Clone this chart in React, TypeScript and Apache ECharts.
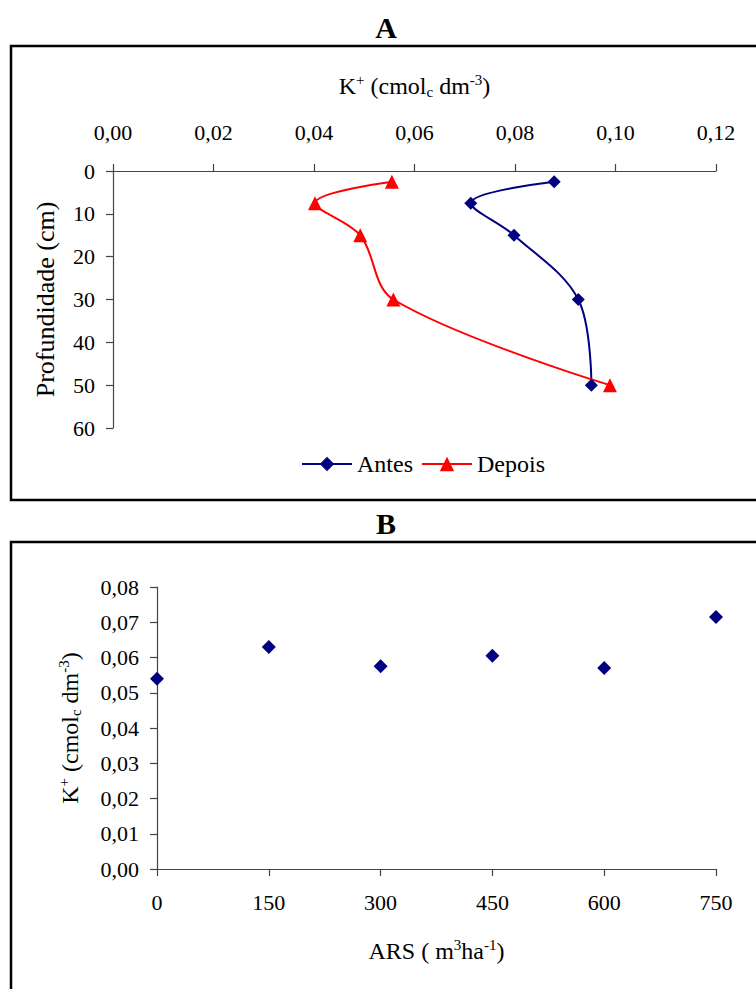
import React, { useEffect, useRef } from "react";
import * as echarts from "echarts";

// Panel A: K+ by depth, before (Antes) and after (Depois)
const depths = [2.5, 7.5, 15, 30, 50];
const antes = [0.0878, 0.0712, 0.0798, 0.0926, 0.0952];
const depois = [0.0555, 0.0402, 0.0492, 0.0558, 0.0989];

// Panel B: K+ by ARS dose
const arsDoses = [0, 150, 300, 450, 600, 750];
const kValuesB = [0.054, 0.063, 0.0575, 0.0605, 0.057, 0.0715];

const FONT = "Liberation Serif";
const fmt2 = (v: number) => v.toFixed(2).replace(".", ",");

const richName = (size: number, small: number) => ({
  fontFamily: FONT,
  fontSize: size,
  color: "#000",
  rich: {
    m: { fontFamily: FONT, fontSize: size, color: "#000" },
    sup: { fontFamily: FONT, fontSize: small, color: "#000", verticalAlign: "top", padding: [0, 0, 12, 0] },
    sub: { fontFamily: FONT, fontSize: small, color: "#000", verticalAlign: "bottom" },
  },
});

export default function App() {
  const ref = useRef<HTMLDivElement>(null);
  useEffect(() => {
    document.body.style.margin = "0";
    if (!ref.current) return;
    const chart = echarts.init(ref.current, undefined, { renderer: "svg" });
    const axisLine = { show: true, lineStyle: { color: "#444", width: 1.2 } };
    const axisTick = { show: true, inside: false, length: 7, lineStyle: { color: "#444", width: 1.2 } };
    const tickLabel = { fontFamily: FONT, fontSize: 22, color: "#000" };
    chart.setOption({
      animation: false,
      backgroundColor: "#fff",
      textStyle: { fontFamily: FONT },
      grid: [
        { left: 113, top: 171, width: 603, height: 257 },
        { left: 157, top: 587, width: 559, height: 282 },
      ],
      xAxis: [
        {
          gridIndex: 0,
          type: "value",
          position: "top",
          min: 0,
          max: 0.12,
          interval: 0.02,
          axisLine,
          axisTick,
          splitLine: { show: false },
          axisLabel: { ...tickLabel, margin: 28, formatter: fmt2 },
          name: "K{sup|+} (cmol{sub|c} dm{sup|-3})",
          nameLocation: "middle",
          nameGap: 72,
          nameTextStyle: richName(24, 15),
        },
        {
          gridIndex: 1,
          type: "value",
          min: 0,
          max: 750,
          interval: 150,
          axisLine,
          axisTick,
          splitLine: { show: false },
          axisLabel: { ...tickLabel, margin: 22 },
          name: "ARS ( m{sup|3}ha{sup|-1})",
          nameLocation: "middle",
          nameGap: 68,
          nameTextStyle: richName(24, 15),
        },
      ],
      yAxis: [
        {
          gridIndex: 0,
          type: "value",
          inverse: true,
          min: 0,
          max: 60,
          interval: 10,
          axisLine,
          axisTick,
          splitLine: { show: false },
          axisLabel: { ...tickLabel, margin: 18 },
          name: "Profundidade (cm)",
          nameLocation: "middle",
          nameGap: 55,
          nameTextStyle: { fontFamily: FONT, fontSize: 26, color: "#000" },
        },
        {
          gridIndex: 1,
          type: "value",
          min: 0,
          max: 0.08,
          interval: 0.01,
          axisLine,
          axisTick,
          splitLine: { show: false },
          axisLabel: { ...tickLabel, margin: 18, formatter: fmt2 },
          name: "K{sup|+} (cmol{sub|c} dm{sup|-3})",
          nameLocation: "middle",
          nameGap: 74,
          nameTextStyle: richName(24, 15),
        },
      ],
      legend: {
        data: ["Antes", "Depois"],
        left: 296,
        top: 447,
        itemWidth: 50,
        itemHeight: 18,
        itemGap: 8,
        textStyle: { fontFamily: FONT, fontSize: 24, color: "#000" },
      },
      series: [
        {
          name: "Antes",
          type: "line",
          xAxisIndex: 0,
          yAxisIndex: 0,
          data: antes.map((v, i) => [v, depths[i]]),
          smooth: 0.35,
          symbol: "diamond",
          symbolSize: 13,
          itemStyle: { color: "#000080", opacity: 1 },
          lineStyle: { color: "#000080", width: 2 },
        },
        {
          name: "Depois",
          type: "line",
          xAxisIndex: 0,
          yAxisIndex: 0,
          data: depois.map((v, i) => [v, depths[i]]),
          smooth: 0.35,
          symbol: "triangle",
          symbolSize: 14,
          itemStyle: { color: "#ff0000", opacity: 1 },
          lineStyle: { color: "#ff0000", width: 2 },
        },
        {
          name: "K",
          type: "scatter",
          xAxisIndex: 1,
          yAxisIndex: 1,
          data: arsDoses.map((d, i) => [d, kValuesB[i]]),
          symbol: "diamond",
          symbolSize: 14,
          itemStyle: { color: "#000080", opacity: 1 },
        },
      ],
      graphic: [
        { type: "rect", shape: { x: 11, y: 46, width: 760, height: 454 }, style: { fill: "none", stroke: "#000", lineWidth: 2.5 } },
        { type: "rect", shape: { x: 11, y: 542, width: 760, height: 470 }, style: { fill: "none", stroke: "#000", lineWidth: 2.5 } },
        { type: "text", x: 386, y: 27, style: { text: "A", fontFamily: FONT, fontSize: 30, fontWeight: "bold", fill: "#000", align: "center", verticalAlign: "middle" } },
        { type: "text", x: 386, y: 523, style: { text: "B", fontFamily: FONT, fontSize: 30, fontWeight: "bold", fill: "#000", align: "center", verticalAlign: "middle" } },
      ],
    });
    return () => chart.dispose();
  }, []);
  return <div ref={ref} style={{ width: 756, height: 989 }} />;
}
